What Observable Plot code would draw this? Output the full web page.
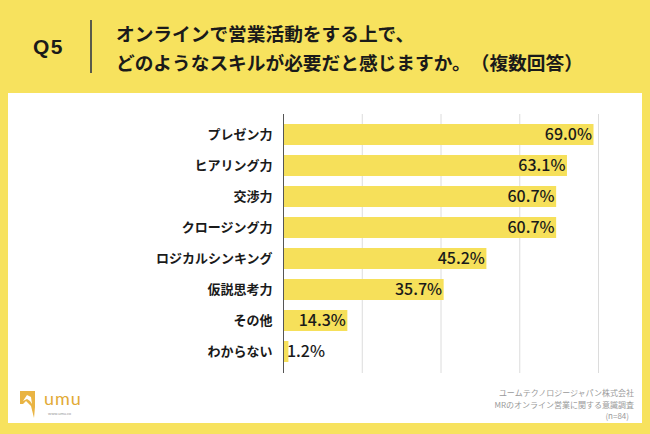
<!DOCTYPE html>
<html>
<head>
<meta charset="utf-8">
<script src="https://cdn.jsdelivr.net/npm/d3@7"></script>
<script src="https://cdn.jsdelivr.net/npm/@observablehq/plot@0.6"></script>
<style>
  html, body { margin: 0; padding: 0; }
  body { width: 650px; height: 434px; background: #f7e25e; position: relative; overflow: hidden;
         font-family: "Noto Sans CJK JP", "Noto Sans", sans-serif; }
  #panel { position: absolute; left: 8px; top: 93px; width: 634px; height: 330px; background: #ffffff; }
  #q { position: absolute; left: 33px; top: 33px; font-size: 21px; font-weight: 700; color: #1a1a1a;
       line-height: 28px; letter-spacing: 1.5px; font-family: "Liberation Sans", Arial, sans-serif; }
  #vline { position: absolute; left: 90px; top: 20px; width: 1.5px; height: 53px; background: #5a5a4a; }
  #title { position: absolute; left: 116px; top: 19px; font-size: 18.7px; font-weight: 700; color: #1a1a1a;
           line-height: 28.5px; white-space: nowrap; text-spacing-trim: space-all; }
  #chart { position: absolute; left: 8px; top: 93px; }
  #source { position: absolute; right: 16px; top: 387px; font-size: 8px; line-height: 11.6px; color: #9a9a9a;
            text-align: right; white-space: nowrap; text-spacing-trim: space-all; }
  #logo { position: absolute; left: 14px; top: 384px; }
</style>
</head>
<body>
<div id="panel"></div>
<div id="q">Q5</div>
<div id="vline"></div>
<div id="title">オンラインで営業活動をする上で、<br>どのようなスキルが必要だと感じますか。（複数回答）</div>
<div id="chart"></div>
<div id="source">ユームテクノロジージャパン株式会社<br>MRのオンライン営業に関する意識調査<br><span style="margin-right:5px">(n=84)</span></div>
<svg id="logo" width="80" height="40" viewBox="0 0 80 40">
  <path d="M6 7 L21 7 L21 23 L20 34 L17 22 L12 17 L9 20 L6 20 Z" fill="#e9b443"/>
  <path d="M9 17 L13 11 L17 13 L18 20 L16 17 L13 15 Z" fill="#ffffff"/>
  <text x="30" y="21" font-size="18" font-family="Lato, 'DejaVu Sans', sans-serif" fill="#e2aa36" letter-spacing="1">umu</text>
  <text x="34" y="31" font-size="4" font-family="Lato, sans-serif" fill="#999">www.umu.co</text>
</svg>
<script>
const categories = ["プレゼン力", "ヒアリング力", "交渉力", "クロージング力", "ロジカルシンキング", "仮説思考力", "その他", "わからない"];
const values = [69.0, 63.1, 60.7, 60.7, 45.2, 35.7, 14.3, 1.2];
const gridTicks = [17.5, 35, 52.5, 70];

const data = categories.map((c, i) => ({cat: c, value: values[i]}));
const inside = data.filter(d => d.value >= 5);
const outside = data.filter(d => d.value < 5);

const chart = Plot.plot({
  width: 634,
  height: 300,
  marginLeft: 275,
  marginRight: 44,
  marginTop: 21,
  marginBottom: 20,
  style: {background: "transparent", fontFamily: "'Noto Sans CJK JP', sans-serif"},
  x: {domain: [0, 70], axis: null},
  y: {domain: categories, padding: 0.31, axis: null},
  marks: [
    Plot.ruleX(gridTicks, {stroke: "#dcdcdc", strokeWidth: 1}),
    Plot.barX(data, {x: "value", y: "cat", fill: "#f6e05a"}),
    Plot.ruleX([0], {stroke: "#555555", strokeWidth: 1}),
    Plot.text(data, {x: 0, y: "cat", text: "cat", textAnchor: "end", dx: -11,
      fontSize: 13, fontWeight: 700, fill: "#1a1a1a"}),
    Plot.text(inside, {x: "value", y: "cat", text: d => d.value.toFixed(1) + "%", textAnchor: "end", dx: -2,
      fontSize: 16, fontWeight: 500, fill: "#1a1a1a"}),
    Plot.text(outside, {x: "value", y: "cat", text: d => d.value.toFixed(1) + "%", textAnchor: "start", dx: -2,
      fontSize: 16, fontWeight: 500, fill: "#1a1a1a"})
  ]
});
document.getElementById("chart").appendChild(chart);
</script>
</body>
</html>
